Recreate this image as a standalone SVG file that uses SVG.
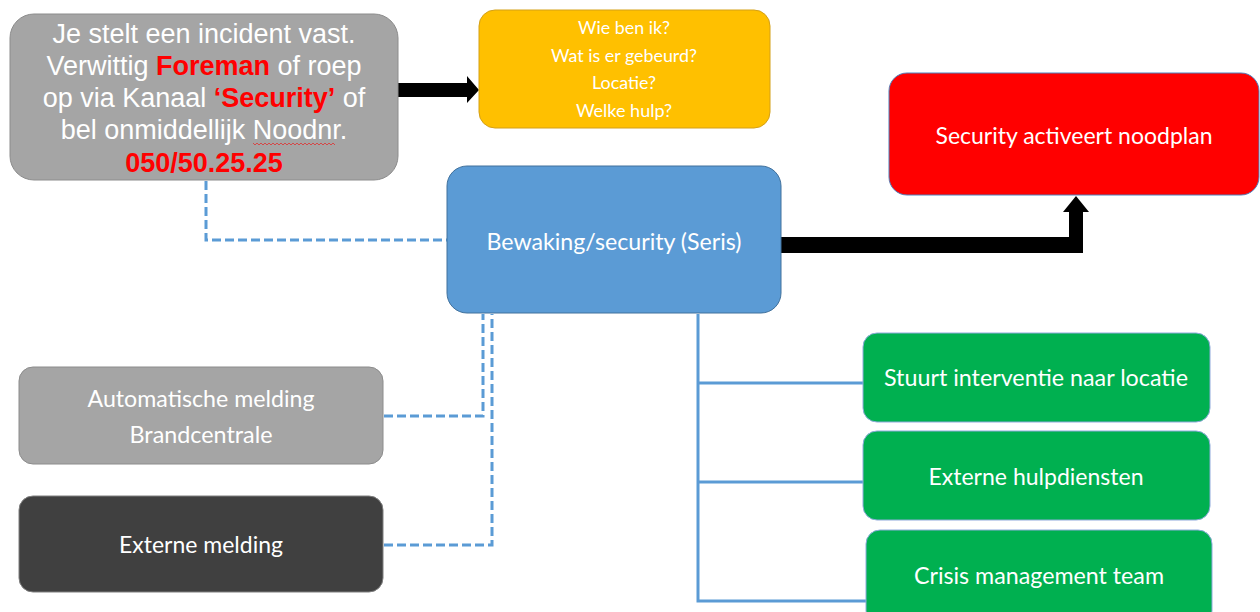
<svg xmlns="http://www.w3.org/2000/svg" width="1260" height="612" viewBox="0 0 1260 612">
<style>
.t{font-family:Lato,"Open Sans","Liberation Sans",sans-serif;fill:#ffffff;text-anchor:middle}
.m{font-size:24px}
.y{font-size:18px}
.a{font-family:"Liberation Sans",Arial,sans-serif;fill:#ffffff;text-anchor:middle;font-size:27px}
.r{fill:#ff0000;font-weight:bold}
.dash{fill:none;stroke:#5b9bd5;stroke-width:3;stroke-dasharray:9 4}
.solid{fill:none;stroke:#5b9bd5;stroke-width:3}
.blk{fill:#000000}
</style>
<rect width="1260" height="612" fill="#ffffff"/>
<g id="connectors">
<path class="dash" d="M206,181 V240 H447"/>
<path class="dash" d="M384,416 H483 V314"/>
<path class="dash" d="M384,545 H492 V314"/>
<path class="solid" d="M698,314 V601 H866 M698,383 H863 M698,482 H863"/>
<path class="blk" d="M397,83 H467 V76 L479,90 L467,103 V97 H397 Z"/>
<path class="blk" d="M781,237 H1069 V212 H1063 L1076,196 L1089,212 H1083 V253 H781 Z"/>
</g>
<g id="n-incident">
<rect x="10" y="14" width="388" height="166" rx="24" fill="#a5a5a5" stroke="#8c8c8c" stroke-width="1"/>
<text class="a" x="204" y="43">Je stelt een incident vast.</text>
<text class="a" x="204" y="75">Verwittig <tspan class="r">Foreman</tspan> of roep</text>
<text class="a" x="204" y="107">op via Kanaal <tspan class="r">‘Security’</tspan> of</text>
<text class="a" x="204" y="139">bel onmiddellijk Noodnr.</text>
<path d="M253,143 l2,2 l2,-2 l2,2 l2,-2 l2,2 l2,-2 l2,2 l2,-2 l2,2 l2,-2 l2,2 l2,-2 l2,2 l2,-2 l2,2 l2,-2 l2,2 l2,-2 l2,2 l2,-2 l2,2 l2,-2 l2,2 l2,-2 l2,2 l2,-2 l2,2 l2,-2 l2,2 l2,-2 l2,2 l2,-2 l2,2 l2,-2 l2,2 l2,-2 l2,2 l2,-2 l2,2 l2,-2 l2,2" fill="none" stroke="#e03030" stroke-width="0.8"/>
<text class="a r" x="204" y="172">050/50.25.25</text>
</g>
<g id="n-questions">
<rect x="479" y="10" width="291" height="118" rx="16" fill="#ffc000" stroke="#d4a017" stroke-width="1"/>
<text class="t y" x="624" y="34" textLength="92" lengthAdjust="spacingAndGlyphs">Wie ben ik?</text>
<text class="t y" x="624" y="62" textLength="146" lengthAdjust="spacingAndGlyphs">Wat is er gebeurd?</text>
<text class="t y" x="624" y="89" textLength="64" lengthAdjust="spacingAndGlyphs">Locatie?</text>
<text class="t y" x="624" y="117" textLength="96" lengthAdjust="spacingAndGlyphs">Welke hulp?</text>
</g>
<g id="n-noodplan">
<rect x="889" y="73" width="370" height="122" rx="18" fill="#ff0000" stroke="#4f81bd" stroke-width="1"/>
<text class="t m" x="1074" y="144" textLength="277" lengthAdjust="spacingAndGlyphs">Security activeert noodplan</text>
</g>
<g id="n-security">
<rect x="447" y="166" width="334" height="147" rx="20" fill="#5b9bd5" stroke="#41719c" stroke-width="1"/>
<text class="t m" x="614" y="250" textLength="255" lengthAdjust="spacingAndGlyphs">Bewaking/security (Seris)</text>
</g>
<g id="n-auto">
<rect x="19" y="367" width="364" height="97" rx="14" fill="#a5a5a5" stroke="#8c8c8c" stroke-width="1"/>
<text class="t m" x="201" y="407" fill="#f2f2f2" textLength="227" lengthAdjust="spacingAndGlyphs">Automatische melding</text>
<text class="t m" x="201" y="443" fill="#f2f2f2" textLength="143" lengthAdjust="spacingAndGlyphs">Brandcentrale</text>
</g>
<g id="n-extern">
<rect x="19" y="496" width="364" height="96" rx="14" fill="#404040" stroke="#7f7f7f" stroke-width="1"/>
<text class="t m" x="201" y="553" fill="#f2f2f2" textLength="164" lengthAdjust="spacingAndGlyphs">Externe melding</text>
</g>
<g id="n-interventie">
<rect x="863" y="333" width="347" height="89" rx="14" fill="#00b050" stroke="#8faadc" stroke-width="1"/>
<text class="t m" x="1036" y="386" textLength="304" lengthAdjust="spacingAndGlyphs">Stuurt interventie naar locatie</text>
</g>
<g id="n-hulpdiensten">
<rect x="863" y="431" width="347" height="89" rx="14" fill="#00b050" stroke="#8faadc" stroke-width="1"/>
<text class="t m" x="1036" y="485" textLength="215" lengthAdjust="spacingAndGlyphs">Externe hulpdiensten</text>
</g>
<g id="n-crisis">
<rect x="866" y="530" width="346" height="95" rx="14" fill="#00b050" stroke="#8faadc" stroke-width="1"/>
<text class="t m" x="1039" y="584" textLength="250" lengthAdjust="spacingAndGlyphs">Crisis management team</text>
</g>
</svg>
